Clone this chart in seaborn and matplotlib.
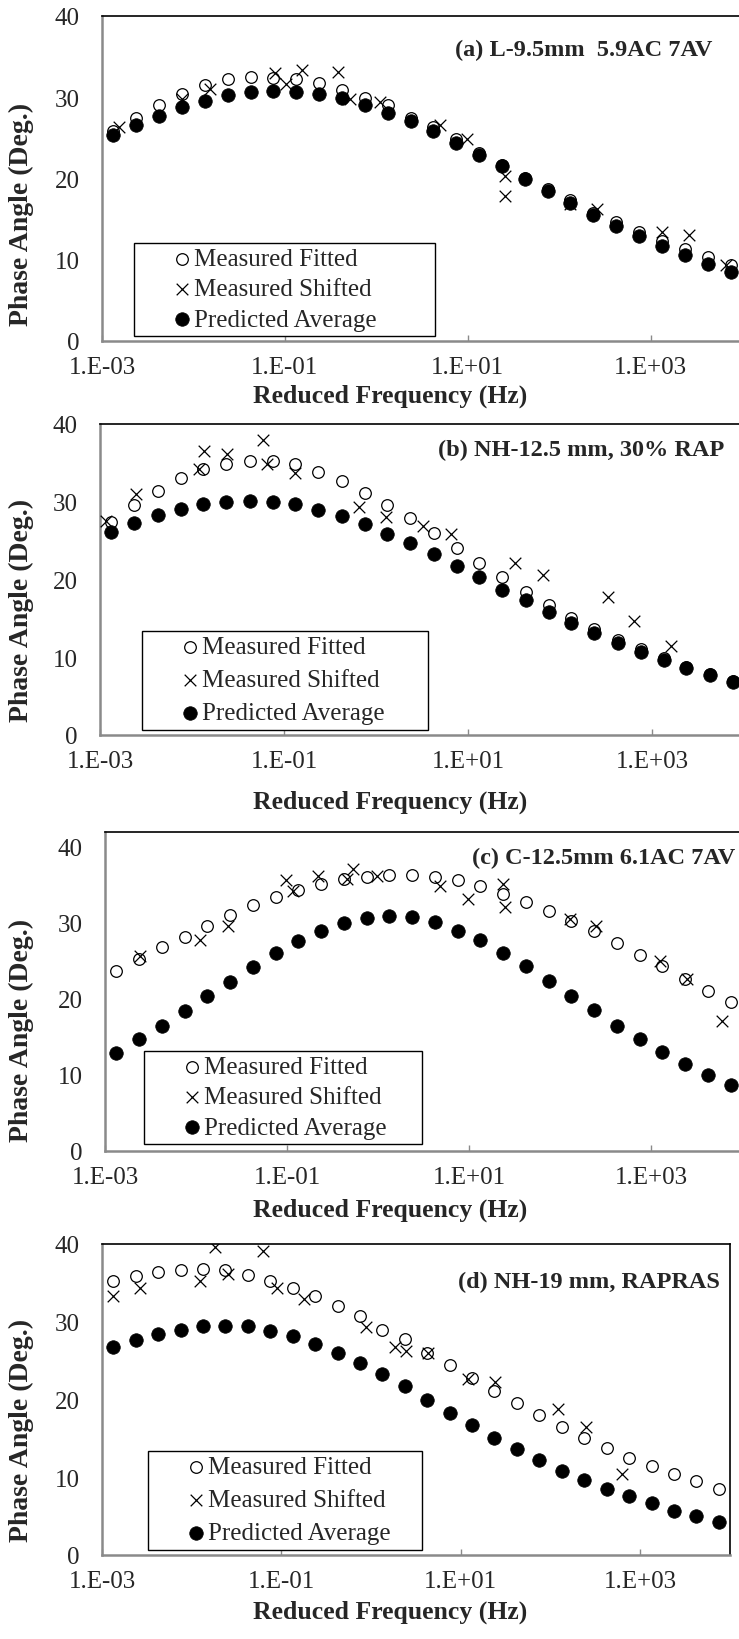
import matplotlib
matplotlib.use("Agg")
import matplotlib.pyplot as plt
import seaborn as sns
from matplotlib.ticker import FixedLocator, FixedFormatter, NullLocator

sns.set_theme(style="white")
plt.rcParams["font.family"] = ["Liberation Serif", "DejaVu Serif"]

# Reduced frequencies of the master-curve points (Hz), quarter-decade steps
freq = [1.33e-3, 2.37e-3, 4.22e-3, 7.50e-3, 1.33e-2, 2.37e-2, 4.22e-2, 7.50e-2,
        1.33e-1, 2.37e-1, 4.22e-1, 7.50e-1, 1.33, 2.37, 4.22, 7.50,
        13.3, 23.7, 42.2, 75.0, 133, 237, 422, 750,
        1334, 2371, 4217, 7499]

# (a) L-9.5mm 5.9AC 7AV
a_fit = [25.8, 27.4, 29.0, 30.4, 31.5, 32.2, 32.5, 32.4, 32.2, 31.7, 30.9, 29.9,
         29.0, 27.5, 26.3, 24.9, 23.1, 21.7, 20.1, 18.7, 17.3, 15.8, 14.7, 13.4,
         12.3, 11.3, 10.3, 9.3]
a_pred = [25.3, 26.6, 27.7, 28.8, 29.6, 30.3, 30.6, 30.8, 30.7, 30.4, 29.9, 29.0,
          28.1, 27.1, 25.8, 24.4, 22.9, 21.5, 19.9, 18.5, 17.0, 15.5, 14.2, 12.9,
          11.7, 10.6, 9.5, 8.5]
a_shift_f = [0.00153, 0.00748, 0.0151, 0.0778, 0.103, 0.153, 0.379, 0.513, 1.09,
             4.94, 9.75, 25.4, 25.4, 130, 257, 1350, 2600, 6610]
a_shift = [26.3, 29.8, 31.0, 33.0, 31.6, 33.3, 33.1, 29.8, 29.4,
           26.6, 24.9, 20.3, 17.9, 16.9, 16.2, 13.4, 13.0, 9.3]

# (b) NH-12.5 mm, 30% RAP
b_fit = [27.4, 29.6, 31.4, 33.0, 34.2, 34.9, 35.3, 35.2, 34.8, 33.8, 32.7, 31.1,
         29.6, 27.9, 26.0, 24.0, 22.1, 20.3, 18.4, 16.7, 15.0, 13.6, 12.2, 11.0,
         9.9, 8.8, 7.8, 6.9]
b_pred = [26.1, 27.3, 28.3, 29.1, 29.7, 30.0, 30.1, 30.0, 29.7, 29.0, 28.2, 27.2,
          25.8, 24.7, 23.3, 21.8, 20.3, 18.7, 17.3, 15.8, 14.4, 13.1, 11.8, 10.7,
          9.6, 8.6, 7.7, 6.8]
b_shift_f = [0.00116, 0.00247, 0.0120, 0.0136, 0.0242, 0.0597, 0.0659, 0.133,
             0.646, 1.27, 3.22, 6.50, 32.4, 65.3, 333, 640, 1618]
b_shift = [27.5, 31.0, 34.2, 36.5, 36.2, 38.0, 34.8, 33.7,
           29.3, 28.1, 26.9, 25.8, 22.1, 20.6, 17.7, 14.7, 11.5]

# (c) C-12.5mm 6.1AC 7AV
c_fit = [23.7, 25.3, 26.8, 28.2, 29.6, 31.1, 32.3, 33.4, 34.4, 35.1, 35.8, 36.1,
         36.3, 36.3, 36.0, 35.6, 34.8, 33.8, 32.7, 31.6, 30.3, 28.9, 27.4, 25.8,
         24.3, 22.6, 21.1, 19.6]
c_pred = [12.9, 14.7, 16.5, 18.4, 20.4, 22.3, 24.2, 26.0, 27.6, 28.9, 30.0, 30.6,
          30.9, 30.8, 30.1, 29.0, 27.7, 26.1, 24.3, 22.4, 20.4, 18.5, 16.5, 14.7,
          13.0, 11.4, 10.0, 8.7]
c_shift_f = [0.00243, 0.0111, 0.0225, 0.0975, 0.116, 0.219, 0.456, 0.531, 0.975,
             4.80, 9.75, 23.7, 24.9, 129, 249, 1256, 2489, 6026]
c_shift = [25.7, 27.8, 29.6, 35.6, 34.2, 36.2, 35.8, 37.1, 36.2,
           34.8, 33.2, 35.1, 32.1, 30.5, 29.6, 25.0, 22.6, 17.1]

# (d) NH-19 mm, RAPRAS
d_fit = [35.3, 35.9, 36.4, 36.7, 36.8, 36.6, 36.0, 35.3, 34.4, 33.3, 32.0, 30.7,
         29.0, 27.8, 26.0, 24.4, 22.8, 21.1, 19.6, 18.0, 16.5, 15.1, 13.7, 12.5,
         11.5, 10.4, 9.5, 8.5]
d_pred = [26.7, 27.7, 28.4, 29.0, 29.5, 29.5, 29.4, 28.8, 28.2, 27.2, 26.0, 24.7,
          23.3, 21.8, 20.0, 18.3, 16.7, 15.1, 13.6, 12.2, 10.8, 9.7, 8.5, 7.6,
          6.7, 5.7, 5.0, 4.2]
d_shift_f = [0.00133, 0.00265, 0.0124, 0.0182, 0.0254, 0.0624, 0.0893, 0.179,
             0.877, 1.85, 2.45, 4.31, 12.0, 24.0, 121, 249, 627]
d_shift = [33.3, 34.4, 35.3, 39.6, 36.1, 39.1, 34.4, 32.9,
           29.3, 26.7, 26.3, 26.0, 22.7, 22.3, 18.8, 16.4, 10.4]

titles = ["(a) L-9.5mm  5.9AC 7AV", "(b) NH-12.5 mm, 30% RAP",
          "(c) C-12.5mm 6.1AC 7AV", "(d) NH-19 mm, RAPRAS"]
xtick_vals = [1e-3, 1e-1, 1e1, 1e3]
xtick_labels = ["1.E-03", "1.E-01", "1.E+01", "1.E+03"]
ytick_vals = [0, 10, 20, 30, 40]
series_names = ["Measured Fitted", "Measured Shifted", "Predicted Average"]

W, H = 739, 1640
fig = plt.figure(figsize=(W / 100, H / 100), dpi=100)

# page layout in pixels: plot box (left, top, right, bottom), y-top, legend box,
# title anchor, axis-title centres
layout = [
    dict(box=(102, 17, 742, 342), ytop=40, leg=(134, 244, 435), lsp=0.3,
         title=(712, 50), xl=396, yl=214, clip_right=True),
    dict(box=(100, 425, 744, 736), ytop=40, leg=(142, 632, 428), lsp=0.42,
         title=(724, 450), xl=802, yl=610, clip_right=True),
    dict(box=(105, 833, 742, 1152), ytop=41.97, leg=(144, 1052, 422), lsp=0.3,
         title=(735, 858), xl=1210, yl=1030, clip_right=True),
    dict(box=(102, 1245, 730, 1556), ytop=40, leg=(148, 1452, 422), lsp=0.42,
         title=(720, 1282), xl=1612, yl=1430, clip_right=False),
]
data = [
    (a_fit, a_pred, a_shift_f, a_shift),
    (b_fit, b_pred, b_shift_f, b_shift),
    (c_fit, c_pred, c_shift_f, c_shift),
    (d_fit, d_pred, d_shift_f, d_shift),
]

AXIS_GREY = "#8a8a8a"
for lay, (fit, pred, sf, sv), title in zip(layout, data, titles):
    l, t, r, b = lay["box"]
    ax = fig.add_axes([l / W, 1 - b / H, (r - l) / W, (b - t) / H])
    ax.set_facecolor("white")

    sns.scatterplot(x=freq, y=fit, ax=ax, marker="o", s=70, color="white",
                    edgecolor="black", linewidth=0.9, label=series_names[0], zorder=2)
    sns.scatterplot(x=sf, y=sv, ax=ax, marker="x", s=70, color="black",
                    linewidth=0.9, label=series_names[1], zorder=4)
    sns.scatterplot(x=freq, y=pred, ax=ax, marker="o", s=95, color="black",
                    edgecolor="black", linewidth=0.5, label=series_names[2], zorder=3)

    ax.set_xscale("log")
    ax.set_xlim(1e-3, 1e4)
    ax.set_ylim(0, lay["ytop"])
    ax.xaxis.set_major_locator(FixedLocator(xtick_vals))
    ax.xaxis.set_major_formatter(FixedFormatter(xtick_labels))
    ax.xaxis.set_minor_locator(NullLocator())
    ax.set_yticks(ytick_vals)
    ax.set_xlabel("")
    ax.set_ylabel("")
    ax.tick_params(axis="x", which="major", direction="in", length=4,
                   color=AXIS_GREY, width=1, labelsize=18, pad=11, bottom=True)
    ax.tick_params(axis="y", which="major", direction="in", length=0,
                   labelsize=18, pad=16, left=True)

    for side in ("left", "bottom"):
        ax.spines[side].set_color(AXIS_GREY)
        ax.spines[side].set_linewidth(1.8)
    ax.spines["top"].set_color("black")
    ax.spines["top"].set_linewidth(1.2)
    ax.spines["right"].set_color("black")
    ax.spines["right"].set_linewidth(1.2)
    ax.spines["right"].set_visible(not lay["clip_right"])

    # legend: boxed, with the entries pushed to the left of the frame
    lx0, ly0, lx1 = lay["leg"]
    leg = ax.legend(loc="upper left", mode="expand",
                    bbox_to_anchor=(lx0 / W, 1 - ly0 / H, (lx1 - lx0) / W, 0.0),
                    bbox_transform=fig.transFigure, borderaxespad=0,
                    fontsize=18, frameon=True, fancybox=False, framealpha=1,
                    edgecolor="black", borderpad=0.2, labelspacing=lay["lsp"],
                    handlelength=3.4, handletextpad=-1.2)
    leg.get_frame().set_linewidth(1.0)
    leg.set_zorder(10)

    tx, ty = lay["title"]
    fig.text(tx / W, 1 - ty / H, title, ha="right", va="center",
             fontsize=17.5, fontweight="bold")
    fig.text(390 / W, 1 - lay["xl"] / H, "Reduced Frequency (Hz)", ha="center",
             va="center", fontsize=18.5, fontweight="bold")
    fig.text(21 / W, 1 - lay["yl"] / H, "Phase Angle (Deg.)", ha="center",
             va="center", rotation=90, fontsize=20, fontweight="bold")

fig.savefig("out.png", dpi=100, facecolor="white")
